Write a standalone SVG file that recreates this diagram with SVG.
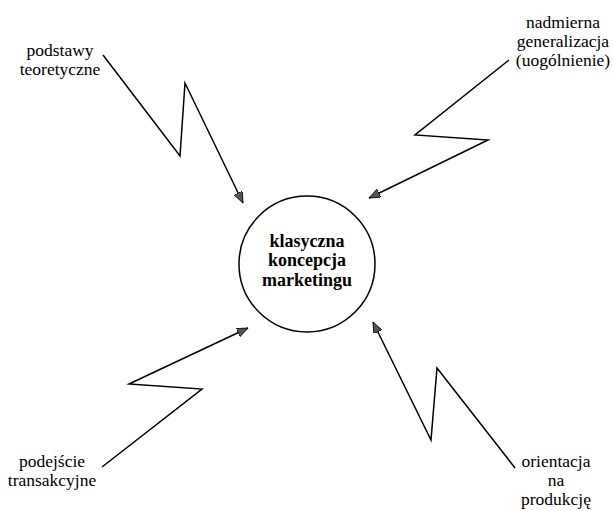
<svg xmlns="http://www.w3.org/2000/svg" width="614" height="511" viewBox="0 0 614 511">
<style>
text{font-family:"Liberation Serif","DejaVu Serif","Times New Roman",serif}
.lbl{font-size:17.5px;fill:#000;text-anchor:middle}
.ctr{font-size:18px;font-weight:bold;fill:#000;text-anchor:middle}
.zz{fill:none;stroke:#000;stroke-width:1.5;stroke-linejoin:miter}
</style>
<defs>
<marker id="ah" markerUnits="userSpaceOnUse" markerWidth="12" markerHeight="10" refX="11" refY="4.5" orient="auto">
<path d="M0,0 L11,4.5 L0,9 z" fill="#555" stroke="#000" stroke-width="0.8"/>
</marker>
</defs>
<rect width="614" height="511" fill="#fff"/>
<g id="center">
<circle cx="307" cy="264" r="68" fill="none" stroke="#000" stroke-width="1.5"/>
<text class="ctr" x="307" y="247">klasyczna</text>
<text class="ctr" x="307" y="266">koncepcja</text>
<text class="ctr" x="307" y="286">marketingu</text>
</g>
<g id="podstawy">
<text class="lbl" x="60" y="56">podstawy</text>
<text class="lbl" x="60" y="75">teoretyczne</text>
</g>
<g id="nadmierna">
<text class="lbl" x="563" y="28">nadmierna</text>
<text class="lbl" x="563" y="47">generalizacja</text>
<text class="lbl" x="563" y="66">(uogólnienie)</text>
</g>
<g id="podejscie">
<text class="lbl" x="52" y="467">podejście</text>
<text class="lbl" x="52" y="486">transakcyjne</text>
</g>
<g id="orientacja">
<text class="lbl" x="556" y="467">orientacja</text>
<text class="lbl" x="556" y="486">na</text>
<text class="lbl" x="556" y="505">produkcję</text>
</g>
<g id="connectors">
<polyline class="zz" points="103,55 180,156 185,83 243,203" marker-end="url(#ah)"/>
<polyline class="zz" points="509,60 415,135 488,140 369,198" marker-end="url(#ah)"/>
<polyline class="zz" points="102,467 202,389 129,384 248,328" marker-end="url(#ah)"/>
<polyline class="zz" points="515,468 437,368 431,440 373,322" marker-end="url(#ah)"/>
</g>
</svg>
